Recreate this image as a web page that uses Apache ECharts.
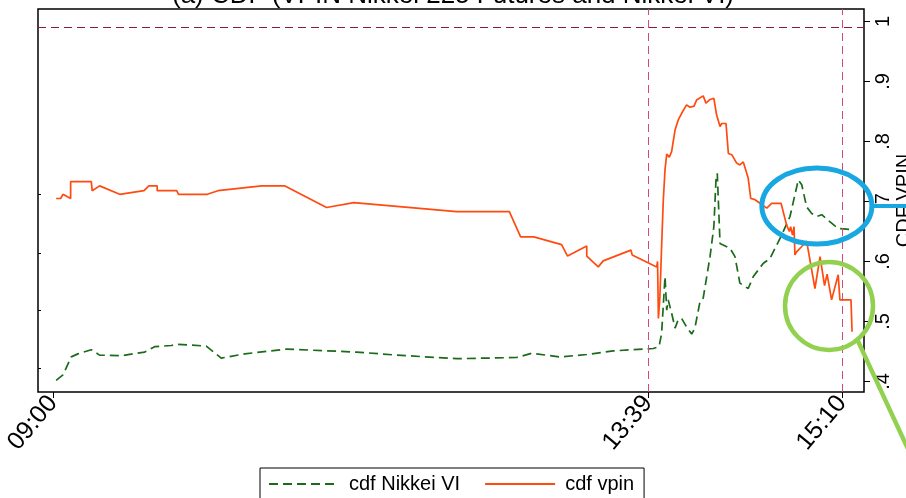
<!DOCTYPE html>
<html><head><meta charset="utf-8">
<script src="https://cdn.jsdelivr.net/npm/echarts@6/dist/echarts.min.js"></script>
<style>html,body{margin:0;padding:0;background:#fff}#c{width:906px;height:498px}</style>
</head><body><div id="c"></div>
<script>
// ---- data (minutes after 09:00, CDF values) ----
const titleText = '(a) CDF (VPIN Nikkei 225 Futures and Nikkei VI)';
const yAxisName = 'CDF VPIN';
const xTickMinutes = [0, 279, 370];
const xTickLabels = ['09:00', '13:39', '15:10'];
const yTickValues = [0.4, 0.5, 0.6, 0.7, 0.8, 0.9, 1];
const yTickLabels = ['.4', '.5', '.6', '.7', '.8', '.9', '1'];
const leftTickValues = [0.422, 0.518, 0.614, 0.712];
const markerMinutes = [279, 370];
const thresholdValue = 0.99;
const seriesNames = ['cdf Nikkei VI', 'cdf vpin'];

const vpinMinutes = [1.5, 3.6, 4.7, 8.3, 8.3, 18.0, 18.4, 21.9, 31.3, 42.7, 45.0, 48.9, 48.9, 58.0, 58.9, 72.4, 77.4, 97.9, 108.8, 128.3, 141.1, 189.3, 214.0, 219.3, 225.5, 238.5, 241.3, 250.3, 250.3, 255.7, 258.0, 271.0, 271.6, 283.1, 283.5, 283.9, 284.6, 285.4, 286.2, 287.0, 287.8, 289.0, 290.1, 291.7, 293.2, 294.8, 297.1, 298.7, 300.6, 301.8, 304.9, 306.2, 308.1, 309.9, 311.2, 312.8, 313.6, 315.6, 316.7, 318.3, 320.6, 322.1, 323.7, 326.0, 327.2, 329.2, 331.5, 334.7, 337.0, 341.4, 344.0, 345.3, 345.9, 346.8, 347.5, 347.9, 348.7, 351.1, 353.4, 357.3, 359.7, 361.8, 363.0, 365.1, 368.2, 369.0, 374.2, 374.7];
const vpinValues = [0.705, 0.705, 0.712, 0.705, 0.733, 0.733, 0.718, 0.726, 0.712, 0.718, 0.726, 0.726, 0.718, 0.718, 0.712, 0.712, 0.718, 0.726, 0.726, 0.690, 0.698, 0.683, 0.683, 0.641, 0.641, 0.628, 0.609, 0.626, 0.609, 0.591, 0.601, 0.619, 0.611, 0.591, 0.600, 0.505, 0.541, 0.625, 0.703, 0.753, 0.779, 0.774, 0.783, 0.819, 0.836, 0.847, 0.861, 0.857, 0.859, 0.869, 0.876, 0.864, 0.870, 0.872, 0.844, 0.825, 0.830, 0.830, 0.780, 0.778, 0.764, 0.761, 0.766, 0.739, 0.705, 0.703, 0.697, 0.689, 0.697, 0.697, 0.661, 0.650, 0.658, 0.644, 0.658, 0.611, 0.616, 0.625, 0.634, 0.555, 0.608, 0.560, 0.579, 0.536, 0.578, 0.536, 0.536, 0.483];

const nviMinutes = [1.5, 4.7, 8.6, 11.7, 18.0, 21.9, 32.0, 43.0, 47.7, 55.5, 58.6, 71.9, 78.9, 89.9, 109.6, 142.4, 161.2, 189.3, 217.4, 224.5, 237.7, 250.3, 262.7, 281.5, 284.2, 285.4, 287.0, 287.8, 288.5, 290.1, 291.7, 293.2, 294.8, 297.1, 299.5, 301.0, 303.4, 304.9, 308.1, 309.9, 310.9, 311.5, 312.8, 314.0, 317.5, 319.8, 322.1, 326.0, 328.4, 333.1, 336.2, 341.7, 345.6, 349.5, 351.1, 353.4, 355.8, 358.1, 360.5, 364.4, 368.2, 375.1];
const nviValues = [0.402, 0.411, 0.441, 0.446, 0.453, 0.444, 0.443, 0.449, 0.458, 0.460, 0.462, 0.459, 0.439, 0.446, 0.454, 0.449, 0.444, 0.438, 0.440, 0.447, 0.441, 0.445, 0.451, 0.455, 0.458, 0.480, 0.575, 0.519, 0.536, 0.514, 0.489, 0.503, 0.505, 0.491, 0.479, 0.489, 0.533, 0.539, 0.608, 0.658, 0.736, 0.747, 0.630, 0.628, 0.622, 0.608, 0.564, 0.555, 0.575, 0.597, 0.605, 0.644, 0.675, 0.736, 0.728, 0.691, 0.680, 0.675, 0.678, 0.666, 0.655, 0.653];

// annotation ellipses (centres in data units)
const blueCenter = [358.2, 0.6925];
const greenCenter = [363.9, 0.526];

const FONT = '"Liberation Sans", Arial, sans-serif';
const zip = (a, b) => a.map((v, i) => [v, b[i]]);
const markStyle = {color: '#d24a76', width: 1, type: [8, 5]};

const chart = echarts.init(document.getElementById('c'), null, {renderer: 'canvas'});
const option = {
  animation: false,
  backgroundColor: '#ffffff',
  textStyle: {fontFamily: FONT},
  title: {
    text: titleText, left: 'center', top: -22,
    textStyle: {fontFamily: FONT, fontSize: 26, fontWeight: 'normal', color: '#000'}
  },
  grid: {left: 38, right: 42, top: 9, bottom: 106, containLabel: false, outerBoundsMode: 'none',
    show: true, borderColor: '#000', borderWidth: 1.5, backgroundColor: '#fff'},
  legend: {
    top: 468, left: 260,
    data: seriesNames,
    itemWidth: 70, itemHeight: 14, itemGap: 24,
    itemStyle: {color: 'rgba(0,0,0,0)', borderWidth: 0, opacity: 0},
    borderColor: '#000', borderWidth: 1, padding: [6, 10, 24, 8],
    textStyle: {fontFamily: FONT, fontSize: 20, color: '#000', padding: [0, 0, 0, 5]}
  },
  xAxis: {
    type: 'value', min: -7, max: 380.3,
    axisLine: {show: false, onZero: false},
    splitLine: {show: false},
    axisTick: {show: true, customValues: xTickMinutes, length: 6, lineStyle: {color: '#000', width: 1}},
    axisLabel: {
      customValues: xTickMinutes, rotate: 50, margin: 7,
      fontFamily: FONT, fontSize: 25, color: '#000',
      formatter: v => xTickLabels[xTickMinutes.indexOf(Math.round(v))]
    }
  },
  yAxis: [{
    type: 'value', position: 'right', min: 0.3825, max: 1.0208,
    name: yAxisName, nameLocation: 'middle', nameRotate: 90, nameGap: 30, nameMoveOverlap: false,
    nameTextStyle: {fontFamily: FONT, fontSize: 20, color: '#000'},
    axisLine: {show: false, onZero: false},
    splitLine: {show: false},
    axisTick: {show: true, customValues: yTickValues, length: 6, lineStyle: {color: '#000', width: 1}},
    axisLabel: {
      customValues: yTickValues, rotate: 90, margin: 9,
      fontFamily: FONT, fontSize: 20, color: '#000',
      formatter: v => yTickLabels[yTickValues.findIndex(t => Math.abs(t - v) < 1e-6)]
    }
  }, {
    type: 'value', position: 'left', min: 0.3825, max: 1.0208,
    axisLine: {show: false, onZero: false},
    splitLine: {show: false},
    axisTick: {show: true, inside: true, customValues: leftTickValues, length: 3, lineStyle: {color: '#000', width: 1}},
    axisLabel: {show: false}
  }],
  series: [
    {
      name: seriesNames[0], type: 'line', data: zip(nviMinutes, nviValues),
      symbol: 'none', lineStyle: {color: '#1a6b1a', width: 1.7, type: [9, 5]}, itemStyle: {color: '#1a6b1a'},
      markLine: {
        silent: true, symbol: ['none', 'none'], label: {show: false},
        lineStyle: markStyle,
        data: [
          ...markerMinutes.map(m => ({xAxis: m, lineStyle: markStyle})),
          {yAxis: thresholdValue, lineStyle: {color: '#8a1c35', width: 1, type: [8, 5]}}
        ]
      }
    },
    {
      name: seriesNames[1], type: 'line', data: zip(vpinMinutes, vpinValues),
      symbol: 'none', lineStyle: {color: '#ff4a10', width: 1.7}, itemStyle: {color: '#ff4a10'}
    }
  ]
};
chart.setOption(option);

function addAnnotations() {
  const W = chart.getWidth();
  const b = chart.convertToPixel({gridIndex: 0}, blueCenter);
  const g = chart.convertToPixel({gridIndex: 0}, greenCenter);
  const brx = 55, bry = 38, grx = 44, gry = 44;
  const ang = 50 * Math.PI / 180;
  const gs = [g[0] + grx * Math.cos(ang), g[1] + gry * Math.sin(ang)];
  const dir = [44, 95];
  const k = (W - gs[0]) / dir[0] + 0.2;
  chart.setOption({
    graphic: [
      {type: 'ellipse', shape: {cx: b[0], cy: b[1], rx: brx, ry: bry}, style: {fill: 'none', stroke: '#19a7e2', lineWidth: 5}, z: 100},
      {type: 'line', shape: {x1: b[0] + brx, y1: b[1], x2: W, y2: b[1]}, style: {stroke: '#19a7e2', lineWidth: 4}, z: 100},
      {type: 'ellipse', shape: {cx: g[0], cy: g[1], rx: grx, ry: gry}, style: {fill: 'none', stroke: '#92d050', lineWidth: 4.5}, z: 100},
      {type: 'line', shape: {x1: gs[0], y1: gs[1], x2: gs[0] + dir[0] * k, y2: gs[1] + dir[1] * k}, style: {stroke: '#92d050', lineWidth: 4.5}, z: 100}
    ]
  });
}
addAnnotations();
</script>
</body></html>
